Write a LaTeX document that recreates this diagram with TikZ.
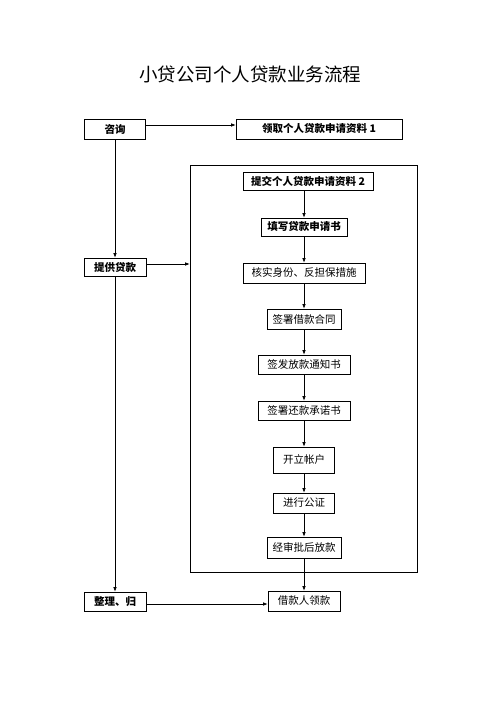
\documentclass[tikz,border=0pt]{standalone}
\usepackage{fontspec}
\setmainfont{Noto Sans CJK SC}
\usetikzlibrary{arrows.meta}
\begin{document}
\begin{tikzpicture}[x=1pt, y=-1pt, line width=.6pt,
    box/.style={draw, inner sep=0, font=\fontsize{10.5}{12}\selectfont},
    boldbox/.style={box, font=\fontsize{10.5}{12}\selectfont\bfseries},
    arr/.style={-{Latex[length=4.5pt,width=3.5pt]}}]
\useasboundingbox (0,0) rectangle (500,708);
\node[font=\fontsize{18.5}{22}\selectfont] (title) at (250,74) {小贷公司个人贷款业务流程};

% left column
\node[boldbox, minimum width=61pt, minimum height=20pt] (zixun) at (115,129) {咨询};
\node[boldbox, minimum width=62pt, minimum height=18pt] (tigong) at (115,267) {提供贷款};
\node[boldbox, minimum width=62pt, minimum height=19pt] (zhengli) at (115,601.5) {整理、归};
\node[boldbox, minimum width=166pt, minimum height=20pt] (lingqu) at (319,129) {领取个人贷款申请资料 1};

% frame
\node[draw, inner sep=0, minimum width=227pt, minimum height=407pt] (frame) at (303.5,368.5) {};

% middle column
\node[boldbox, minimum width=130pt, minimum height=18pt] (tijiao) at (308,181) {提交个人贷款申请资料 2};
\node[boldbox, minimum width=86pt, minimum height=18pt] (tianxie) at (304,227) {填写贷款申请书};
\foreach \n/\y/\w/\h/\t in {heshi/273/122/20/核实身份、反担保措施,
    qianshu/319/74/20/签署借款合同, qianfa/364.5/92/19/签发放款通知书, huankuan/410.5/92/19/签署还款承诺书,
    kaili/460/61/26/开立帐户, gongzheng/503/61/20/进行公证, jingshen/547.5/74/21/经审批后放款,
    jiekuan/601/72/20/借款人领款}{
    \node[box, minimum width=\w pt, minimum height=\h pt] (\n) at (304,\y) {\t};
}

\foreach \a/\b in {tijiao/tianxie, tianxie/heshi, heshi/qianshu, qianshu/qianfa, qianfa/huankuan,
    huankuan/kaili, kaili/gongzheng, gongzheng/jingshen, jingshen/jiekuan}{
    \draw[arr] (\a.south -| \b.north) -- (\b.north);
}

\draw[arr] ([yshift=4pt]zixun.east) -- ([yshift=4pt]lingqu.west);
\draw[arr] (zixun) -- (tigong);
\draw[arr] (tigong) -- (zhengli);
\draw[arr] ([yshift=3pt]tigong.east) -- ([yshift=3pt]tigong.east -| frame.west);
\draw[arr] ([yshift=-2.5pt]zhengli.east) -- ([yshift=-2.5pt]zhengli.east -| jiekuan.west);
\end{tikzpicture}
\end{document}
